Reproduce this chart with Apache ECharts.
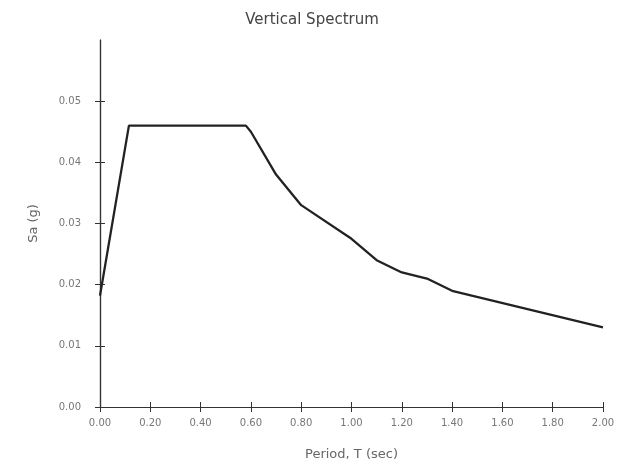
<!DOCTYPE html>
<html>
<head>
<meta charset="utf-8">
<script src="https://cdn.jsdelivr.net/npm/echarts@6/dist/echarts.min.js"></script>
<style>
  html, body { margin: 0; padding: 0; background: #fff; }
  #chart { width: 624px; height: 466px; }
</style>
</head>
<body>
<div id="chart"></div>
<script>
// period T (sec) and spectral acceleration Sa (g)
var periods = [0.00, 0.115, 0.58, 0.60, 0.70, 0.80, 1.00, 1.10, 1.20, 1.30, 1.40, 2.00]
var saValues = [0.0182, 0.046, 0.046, 0.045, 0.038, 0.033, 0.0275, 0.0240, 0.0220, 0.0210, 0.0190, 0.0130]
var xTicks = [0, 0.2, 0.4, 0.6, 0.8, 1.0, 1.2, 1.4, 1.6, 1.8, 2.0]
var yTicks = [0, 0.01, 0.02, 0.03, 0.04, 0.05]

var chart = echarts.init(document.getElementById('chart'))

var font = 'DejaVu Sans'
var axisColor = '#333'
var textColor = '#666'

var points = periods.map(function (t, i) { return [t, saValues[i]] })

var baseX = {
  type: 'value',
  min: 0,
  max: 2,
  interval: 0.2,
  axisLine: { show: true, onZero: false, lineStyle: { color: axisColor, width: 1.2 } },
  splitLine: { show: false }
}
var baseY = {
  type: 'value',
  min: 0,
  max: 0.06,
  interval: 0.01,
  axisLine: { show: true, onZero: false, lineStyle: { color: axisColor, width: 1.2 } },
  splitLine: { show: false }
}

chart.setOption({
  animation: false,
  title: {
    text: 'Vertical Spectrum',
    left: 'center',
    top: 8,
    textStyle: { fontFamily: font, fontSize: 15, fontWeight: 'normal', color: '#444' }
  },
  grid: { left: 100, right: 21, top: 40, bottom: 59 },
  xAxis: [
    Object.assign({}, baseX, {
      name: 'Period, T (sec)',
      nameLocation: 'middle',
      nameGap: 41,
      nameTextStyle: { fontFamily: font, fontSize: 13, color: textColor },
      axisTick: { show: true, length: 5, lineStyle: { color: axisColor } },
      axisLabel: {
        fontFamily: font, fontSize: 10, color: '#777', margin: 11,
        customValues: xTicks,
        formatter: function (v) { return v.toFixed(2) }
      }
    }),
    Object.assign({}, baseX, {
      position: 'bottom',
      axisTick: { show: true, inside: true, length: 5, lineStyle: { color: axisColor } },
      axisLabel: { show: false }
    })
  ],
  yAxis: [
    Object.assign({}, baseY, {
      name: 'Sa (g)',
      nameLocation: 'middle',
      nameGap: 60,
      nameTextStyle: { fontFamily: font, fontSize: 13, color: textColor },
      axisTick: { show: true, length: 5, customValues: yTicks, lineStyle: { color: axisColor } },
      axisLabel: {
        fontFamily: font, fontSize: 10, color: '#777', margin: 19,
        customValues: yTicks,
        formatter: function (v) { return v.toFixed(2) }
      }
    }),
    Object.assign({}, baseY, {
      position: 'left',
      axisTick: { show: true, inside: true, length: 5, customValues: yTicks, lineStyle: { color: axisColor } },
      axisLabel: { show: false }
    })
  ],
  series: [{
    type: 'line',
    data: points,
    showSymbol: false,
    lineStyle: { color: '#222', width: 2.3 },
    z: 5
  }]
})
</script>
</body>
</html>
